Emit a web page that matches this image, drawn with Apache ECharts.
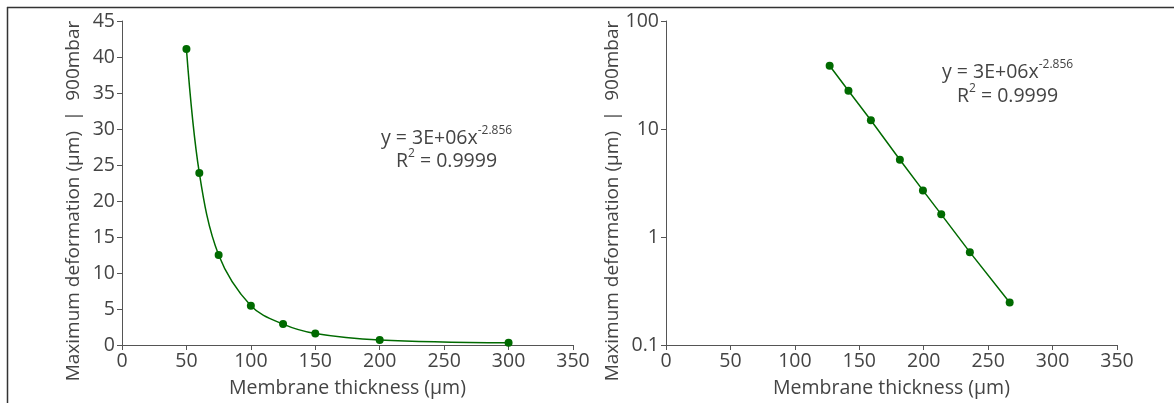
<!DOCTYPE html>
<html>
<head>
<meta charset="utf-8">
<script src="https://cdn.jsdelivr.net/npm/echarts@6/dist/echarts.min.js"></script>
<style>
html,body{margin:0;padding:0;background:#fff;}
#chart{width:1174px;height:403px;}
</style>
</head>
<body>
<div id="chart"></div>
<script>
// ---- data ----
const leftThickness = [50, 60, 75, 100, 125, 150, 200, 300];
const leftDeformation = [41.1, 23.9, 12.5, 5.45, 2.9, 1.6, 0.7, 0.3];
const rightThickness = [127, 141.6, 159, 181.5, 199.4, 213.6, 235.8, 266.7];
const rightDeformation = [38.5, 22.6, 12.05, 5.19, 2.70, 1.62, 0.724, 0.247];
const xAxisTitle = 'Membrane thickness (µm)';
const yAxisTitle = 'Maximum deformation (µm)  |  900mbar';
const eqMain = 'y = 3E+06x';
const eqExp = '-2.856';
const r2Label = 'R';
const r2Value = ' = 0.9999';

const FONT = 'Open Sans';
const TXT = '#444';
const AX = '#555';
const GREEN = '#006a00';
const FS = 19.5;

const pairs = (xs, ys) => xs.map((x, i) => [x, ys[i]]);

const chart = echarts.init(document.getElementById('chart'), null, {renderer: 'canvas'});

function xAx(idx) {
  return {
    gridIndex: idx, type: 'value', min: 0, max: 350, interval: 50,
    name: xAxisTitle, nameLocation: 'middle', nameGap: 33,
    nameTextStyle: {fontFamily: FONT, fontSize: FS, color: TXT},
    axisLine: {show: true, lineStyle: {color: AX, width: 1}},
    axisTick: {show: true, inside: false, length: 5, lineStyle: {color: AX}},
    axisLabel: {fontFamily: FONT, fontSize: FS, color: TXT, margin: 6},
    splitLine: {show: false}
  };
}

function eqGraphic(cx, y1, y2) {
  return [
    {type: 'text', left: cx - 66, top: y1 - 13, z: 10,
     style: {text: '{a|' + eqMain + '}{s|' + eqExp + '}', fill: TXT,
       rich: {a: {fontFamily: FONT, fontSize: 19.5, fill: TXT, lineHeight: 26},
              s: {fontFamily: FONT, fontSize: 12, fill: TXT, verticalAlign: 'top', lineHeight: 26, padding: [0,0,8,0]}}}},
    {type: 'text', left: cx - 51, top: y2 - 13, z: 10,
     style: {text: '{a|' + r2Label + '}{s|2}{a|' + r2Value + '}', fill: TXT,
       rich: {a: {fontFamily: FONT, fontSize: 19.5, fill: TXT, lineHeight: 26},
              s: {fontFamily: FONT, fontSize: 12, fill: TXT, verticalAlign: 'top', lineHeight: 26, padding: [0,0,8,0]}}}}
  ];
}

const option = {
  animation: false,
  backgroundColor: '#fff',
  grid: [
    {left: 122, top: 21, width: 451, height: 325},
    {left: 666, top: 21, width: 451, height: 325}
  ],
  xAxis: [xAx(0), xAx(1)],
  yAxis: [
    {gridIndex: 0, type: 'value', min: 0, max: 45, interval: 5,
     name: yAxisTitle, nameLocation: 'middle', nameGap: 39, nameRotate: 90,
     nameTextStyle: {fontFamily: FONT, fontSize: 19, color: TXT, padding: [0, 36, 0, 0]},
     axisLine: {show: true, lineStyle: {color: AX, width: 1}},
     axisTick: {show: true, inside: false, length: 5, lineStyle: {color: AX}},
     axisLabel: {fontFamily: FONT, fontSize: FS, color: TXT, margin: 7},
     splitLine: {show: false}},
    {gridIndex: 1, type: 'log', logBase: 10, min: 0.1, max: 100,
     name: yAxisTitle, nameLocation: 'middle', nameGap: 44, nameRotate: 90,
     nameTextStyle: {fontFamily: FONT, fontSize: 19, color: TXT, padding: [0, 36, 0, 0]},
     axisLine: {show: true, lineStyle: {color: AX, width: 1}},
     axisTick: {show: true, inside: false, length: 5, lineStyle: {color: AX}},
     axisLabel: {fontFamily: FONT, fontSize: FS, color: TXT, margin: 7,
       formatter: v => String(+v.toPrecision(3))},
     minorTick: {show: false},
     splitLine: {show: false}}
  ],
  series: [
    {type: 'line', xAxisIndex: 0, yAxisIndex: 0, data: pairs(leftThickness, leftDeformation),
     smooth: 0.35, symbol: 'circle', symbolSize: 8,
     lineStyle: {color: GREEN, width: 1.5}, itemStyle: {color: GREEN}},
    {type: 'line', xAxisIndex: 1, yAxisIndex: 1, data: pairs(rightThickness, rightDeformation),
     smooth: false, symbol: 'circle', symbolSize: 8,
     lineStyle: {color: GREEN, width: 1.5}, itemStyle: {color: GREEN}}
  ],
  graphic: [
    {type: 'line', shape: {x1: 7, y1: 7.5, x2: 1174, y2: 7.5}, style: {stroke: '#333', lineWidth: 1.5}},
    {type: 'line', shape: {x1: 7.5, y1: 7, x2: 7.5, y2: 403}, style: {stroke: '#333', lineWidth: 1.5}}
  ].concat(eqGraphic(447, 138, 161)).concat(eqGraphic(1008, 72, 96))
};
chart.setOption(option);
</script>
</body>
</html>
